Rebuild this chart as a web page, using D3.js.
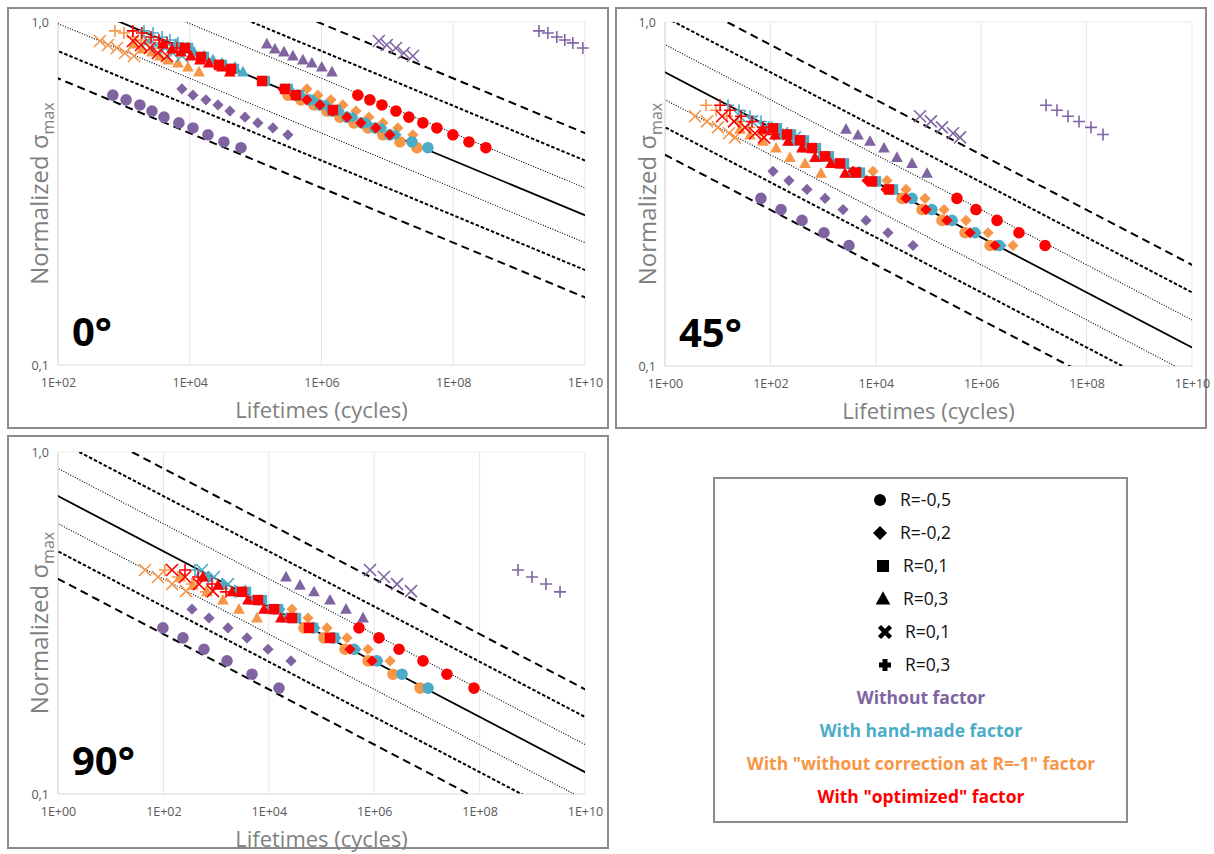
<!DOCTYPE html>
<html><head><meta charset="utf-8">
<script src="https://cdn.jsdelivr.net/npm/d3@7"></script>
<style>body{margin:0;background:#fff;} svg{display:block;font-family:'Open Sans',sans-serif;}</style>
</head><body><svg id="c" width="1214" height="854"></svg>
<script>
// ---------------- DATA ----------------
const markerTypes = ['circle','diamond','square','triangle','cross','plus'];
const factorKeys = ['without','noCorr','hand','opt']; // draw order
const factorColors = {without:'#8064A2', hand:'#4BACC6', noCorr:'#F79646', opt:'#FF0000'};
const legendMarkerLabels = ['R=-0,5','R=-0,2','R=0,1','R=0,3','R=0,1','R=0,3'];
const legendFactorLabels = ['Without factor','With hand-made factor','With "without correction at R=-1" factor','With "optimized" factor'];
const legendFactorOrder = ['without','hand','noCorr','opt'];
const bandShifts = [-3,-2,-1,0,1,2,3];   // lifetime scatter bands (decades)

// ---- 0° ----
const S0 = { circle:[0.612,0.593,0.573,0.550,0.528,0.508,0.491,0.469,0.447,0.430],
  diamond:[0.638,0.612,0.593,0.573,0.550,0.528,0.508,0.491,0.469],
  square:[0.840,0.791,0.750,0.730,0.673,0.638,0.612,0.554],
  triangle:[0.863,0.834,0.818,0.796,0.775,0.759,0.739,0.715],
  cross:[0.880,0.857,0.840,0.812,0.796],
  plus:[0.942,0.929,0.904,0.886,0.869,0.840] };
const N0_without = { circle:[6.8e2,1.08e3,1.75e3,2.67e3,4.06e3,6.85e3,1.12e4,1.89e4,3.30e4,5.98e4],
  diamond:[7.6e3,1.12e4,1.76e4,2.68e4,4.07e4,6.9e4,1.08e5,1.83e5,3.09e5], square:[],
  triangle:[1.48e5,1.96e5,2.69e5,3.68e5,5.22e5,7.14e5,1.01e6,1.44e6],
  cross:[7.4e6,9.8e6,1.35e7,1.78e7,2.44e7], plus:[2.0e9,2.73e9,3.73e9,4.93e9,6.53e9,9.27e9] };
const N0_hand = { circle:[4.39e5,6.44e5,9.46e5,1.44e6,2.43e6,4.10e6,6.46e6,1.09e7,2.36e7,4.12e7],
  diamond:[3.2e5,4.87e5,7.4e5,1.17e6,1.84e6,3.0e6,4.89e6,8.26e6,1.35e7],
  square:[9.4e3,1.64e4,3.08e4,4.69e4,1.38e5,3.09e5,4.54e5,1.66e6],
  triangle:[6.18e3,8.45e3,1.16e4,1.64e4,2.25e4,3.08e4,4.85e4,6.41e4],
  cross:[2.32e3,3.07e3,4.21e3,5.56e3,7.62e3], plus:[2.02e3,2.77e3,3.79e3,5.01e3,6.62e3,9.4e3] };
const N0_noCorr = { circle:[3.09e5,4.87e5,7.67e5,1.21e6,1.90e6,3.10e6,5.06e6,8.55e6,1.55e7,2.81e7],
  diamond:[6.0e5,8.8e5,1.39e6,2.11e6,3.33e6,5.24e6,8.55e6,1.44e7,2.44e7], square:[],
  triangle:[1.42e3,1.88e3,2.67e3,3.53e3,4.67e3,6.62e3,9.4e3,1.38e4],
  cross:[4.34e2,5.74e2,7.85e2,1.04e3,1.42e3], plus:[7.33e2,1.0e3,1.37e3,1.82e3,2.4e3,3.41e3] };
const N0_opt = { circle:[3.56e6,5.42e6,8.26e6,1.35e7,2.12e7,3.46e7,5.64e7,9.86e7,1.73e8,3.13e8],
  diamond:[2.6e5,3.94e5,6.0e5,9.46e5,1.49e6,2.43e6,3.96e6,6.69e6,1.09e7],
  square:[8.45e3,1.48e4,2.77e4,4.22e4,1.25e5,2.79e5,4.09e5,1.49e6],
  triangle:[3.92e3,5.37e3,7.35e3,1.04e4,1.43e4,1.95e4,3.08e4,4.07e4],
  cross:[1.37e3,1.82e3,2.49e3,3.29e3,4.51e3], plus:[1.37e3,1.88e3,2.58e3,3.41e3,4.51e3,6.4e3] };
const fit0 = [[1e-4,3.58],[1e14,0.131]];

// ---- 45° ----
const S45 = { circle:[0.307,0.285,0.265,0.244,0.224],
  diamond:[0.368,0.346,0.326,0.307,0.285,0.265,0.244,0.224],
  square:[0.491,0.471,0.453,0.430,0.407,0.388,0.365,0.344,0.326],
  triangle:[0.488,0.469,0.450,0.430,0.404,0.388,0.363],
  cross:[0.532,0.514,0.494,0.475,0.462],
  plus:[0.573,0.554,0.532,0.514,0.494,0.471] };
const N45_without = { circle:[66,159,398,1.04e3,3.1e3],
  diamond:[112,225,494,1.09e3,2.39e3,6.52e3,1.70e4,5.08e4], square:[],
  triangle:[2.72e3,4.59e3,7.76e3,1.43e4,2.52e4,4.86e4,9.37e4],
  cross:[6.9e4,1.11e5,1.80e5,2.92e5,3.96e5], plus:[1.70e7,2.74e7,4.44e7,7.18e7,1.21e8,2.05e8] };
const N45_hand = { circle:[4.86e4,1.16e5,2.79e5,7.62e5,2.18e6],
  diamond:[4.8e3,8.85e3,2.03e4,4.86e4,1.16e5,2.92e5,7.96e5,2.38e6],
  square:[133,246,434,733,1.29e3,2.49e3,5.01e3,1.01e4,2.12e4],
  triangle:[90,152,268,494,873,1.76e3,3.24e3],
  cross:[26.5,44.8,75.6,166,293], plus:[15.7,25.4,41,66.4,107,173] };
const N45_noCorr = { circle:[3.14e4,7.53e4,1.80e5,4.93e5,1.47e6],
  diamond:[8.85e3,1.63e4,3.74e4,8.59e4,1.97e5,5.15e5,1.35e6,4.01e6], square:[],
  triangle:[26.5,41,72.4,128,235,454,912],
  cross:[3.71,6.27,10.1,16.4,21.3], plus:[6.0,9.3,15,24.3,39.3,63.5] };
const N45_opt = { circle:[3.47e5,7.96e5,2.0e6,5.21e6,1.63e7],
  diamond:[3.69e3,6.81e3,1.56e4,3.74e4,8.97e4,2.24e5,6.13e5,1.83e6],
  square:[112,207,365,615,1.09e3,2.09e3,4.21e3,8.47e3,1.78e4],
  triangle:[72.4,122,216,398,702,1.41e3,2.61e3],
  cross:[12.1,20.4,33,51,75.6], plus:[11.1,17.1,27.7,44.8,72.4,117] };
const fit45 = [[1e-4,1.493],[1e14,0.0542]];

// ---- 90° ----
const S90 = { circle:[0.306,0.286,0.265,0.245,0.224,0.204],
  diamond:[0.347,0.327,0.306,0.286,0.265,0.245],
  square:[0.390,0.369,0.347,0.327,0.306,0.286],
  triangle:[0.431,0.408,0.390,0.369,0.347,0.327],
  cross:[0.452,0.431,0.411,0.392],
  plus:[0.452,0.431,0.411,0.390] };
const N90_without = { circle:[98,235,589,1.61e3,4.8e3,1.56e4],
  diamond:[349,733,1.68e3,3.86e3,9.66e3,2.64e4], square:[],
  triangle:[2.12e4,3.91e4,7.21e4,1.45e5,2.92e5,6.13e5],
  cross:[8.32e5,1.53e6,2.71e6,4.99e6], plus:[5.36e8,9.86e8,1.82e9,3.36e9] };
const N90_hand = { circle:[6.9e4,1.65e5,4.14e5,1.13e6,3.37e6,1.05e7],
  diamond:[1.63e4,3.28e4,7.53e4,1.88e5,4.52e5,1.18e6],
  square:[3.69e3,7.43e3,1.5e4,3.28e4,6.9e4,1.73e5],
  triangle:[702,1.35e3,2.49e3,5.01e3,1.01e4,2.12e4],
  cross:[540,912,1.68e3,2.84e3], plus:[398,702,1.29e3,2.39e3] };
const N90_noCorr = { circle:[4.66e4,1.11e5,2.79e5,7.62e5,2.27e6,7.4e6],
  diamond:[2.75e4,5.55e4,1.27e5,3.05e5,7.62e5,2.0e6], square:[],
  triangle:[207,365,671,1.35e3,2.72e3,5.97e3],
  cross:[44.8,79,146,268], plus:[107,189,349,643] };
const N90_opt = { circle:[5.15e5,1.23e6,2.96e6,8.43e6,2.4e7,7.83e7],
  diamond:[1.26e4,2.52e4,5.79e4,1.45e5,3.47e5,9.08e5],
  square:[3.1e3,6.24e3,1.26e4,2.75e4,5.79e4,1.45e5],
  triangle:[564,1.09e3,2.0e3,4.03e3,8.11e3,1.7e4],
  cross:[146,257,474,873], plus:[257,454,836,1.54e3] };
const fit90 = [[1e-4,1.563],[1e14,0.0551]];

const xTicks0 = [1e2,1e4,1e6,1e8,1e10];
const xTicksWide = [1,1e2,1e4,1e6,1e8,1e10];
const yTicks = [0.1,1.0];

// ---------------- LAYOUT ----------------
const panels = [
  {label:'0°', frame:[8,8,600,420], plot:[58,585,22,365], xDom:[1e2,1e10], xTicks:xTicks0, S:S0,
   N:{without:N0_without,hand:N0_hand,noCorr:N0_noCorr,opt:N0_opt}, fit:fit0},
  {label:'45°', frame:[616,8,590,420], plot:[665,1192,22,366], xDom:[1,1e10], xTicks:xTicksWide, S:S45,
   N:{without:N45_without,hand:N45_hand,noCorr:N45_noCorr,opt:N45_opt}, fit:fit45},
  {label:'90°', frame:[8,436,600,412], plot:[58,585,452,794], xDom:[1,1e10], xTicks:xTicksWide, S:S90,
   N:{without:N90_without,hand:N90_hand,noCorr:N90_noCorr,opt:N90_opt}, fit:fit90}
];

const svg = d3.select('#c');
const bandStyle = k => {
  const a = Math.abs(k);
  if (a===0) return {w:1.8, dash:null};
  if (a===1) return {w:1.1, dash:'1,1.6'};
  if (a===2) return {w:2, dash:'3.5,2'};
  return {w:2, dash:'8,5'};
};

function markerPath(type, s) {
  switch(type){
    case 'circle': return `M${-s},0a${s},${s} 0 1,0 ${2*s},0a${s},${s} 0 1,0 ${-2*s},0Z`;
    case 'diamond': return `M0,${-s}L${s},0L0,${s}L${-s},0Z`;
    case 'square': return `M${-s},${-s}H${s}V${s}H${-s}Z`;
    case 'triangle': return `M0,${-s*1.1}L${s*1.05},${s*0.8}L${-s*1.05},${s*0.8}Z`;
    case 'cross': return `M${-s},${-s}L${s},${s}M${-s},${s}L${s},${-s}`;
    case 'plus': return `M${-s},0H${s}M0,${-s}V${s}`;
  }
}
const markerSize = {circle:5.8, diamond:5.6, square:5.2, triangle:5.6, cross:6, plus:6};

panels.forEach((p, pi) => {
  const [fx,fy,fw,fh] = p.frame;
  const [x0,x1,y0,y1] = p.plot;
  const g = svg.append('g');
  g.append('rect').attr('x',fx).attr('y',fy).attr('width',fw).attr('height',fh)
    .attr('fill','#fff').attr('stroke','#8c8c8c').attr('stroke-width',2);
  const x = d3.scaleLog().domain(p.xDom).range([x0,x1]);
  const y = d3.scaleLog().domain([0.1,1]).range([y1,y0]);

  // grid
  g.selectAll('.vg').data(p.xTicks).join('line')
    .attr('x1',d=>x(d)).attr('x2',d=>x(d)).attr('y1',y0).attr('y2',y1)
    .attr('stroke','#e6e6e6').attr('stroke-width',1);
  g.selectAll('.hg').data(yTicks).join('line')
    .attr('x1',x0).attr('x2',x1).attr('y1',d=>y(d)).attr('y2',d=>y(d))
    .attr('stroke',(d,i)=>i===0?'#d9d9d9':'#ececec').attr('stroke-width',1);
  g.append('line').attr('x1',x0).attr('x2',x0).attr('y1',y0).attr('y2',y1).attr('stroke','#d9d9d9');

  // axes tick labels via d3 axes
  const xAxis = d3.axisBottom(x).tickValues(p.xTicks).tickSize(0).tickPadding(0)
    .tickFormat(d => '1E+' + String(Math.round(Math.log10(d))).padStart(2,'0'));
  const xa = g.append('g').attr('transform',`translate(0,${y1+18})`).call(xAxis);
  xa.select('.domain').remove();
  xa.selectAll('text').attr('font-family','Open Sans, sans-serif').attr('font-size',12.5).attr('fill','#595959').attr('dy','0.3em');
  const yAxis = d3.axisLeft(y).tickValues(yTicks).tickSize(0).tickPadding(0)
    .tickFormat(d => d3.format('.1f')(d).replace('.',','));
  const ya = g.append('g').attr('transform',`translate(${x0-9},0)`).call(yAxis);
  ya.select('.domain').remove();
  ya.selectAll('text').attr('font-family','Open Sans, sans-serif').attr('font-size',12.5).attr('fill','#595959');

  // fit lines (clipped)
  const cid = 'clip'+pi;
  svg.append('clipPath').attr('id',cid).append('rect')
    .attr('x',x0).attr('y',y0).attr('width',x1-x0).attr('height',y1-y0);
  const lg = g.append('g').attr('clip-path',`url(#${cid})`);
  const line = d3.line().x(d=>x(d[0])).y(d=>y(d[1]));
  bandShifts.forEach(k => {
    const st = bandStyle(k);
    const pts = p.fit.map(([n,s]) => [n*Math.pow(10,k), s]);
    lg.append('path').attr('d', line(pts)).attr('fill','none')
      .attr('stroke','#000').attr('stroke-width',st.w)
      .attr('stroke-dasharray', st.dash);
  });

  // markers
  factorKeys.forEach(f => {
    const col = factorColors[f];
    markerTypes.forEach(m => {
      const Ns = p.N[f][m]; const Ss = p.S[m];
      const pts = Ns.map((n,i)=>[n,Ss[i]]);
      const isLine = (m==='cross'||m==='plus');
      g.selectAll(null).data(pts).join('path')
        .attr('transform', d=>`translate(${x(d[0])},${y(d[1])})`)
        .attr('d', markerPath(m, markerSize[m]))
        .attr('fill', isLine?'none':col)
        .attr('stroke', isLine?col:'none')
        .attr('stroke-width', isLine?1.6:0);
    });
  });

  // titles
  g.append('text').attr('x',(x0+x1)/2).attr('y',y1+53).attr('text-anchor','middle')
    .attr('font-size',22).attr('fill','#808080').text('Lifetimes (cycles)');
  const yt = g.append('text').attr('transform',`translate(${fx+40},${(y0+y1)/2}) rotate(-90)`)
    .attr('text-anchor','middle').attr('font-size',24).attr('fill','#808080');
  yt.append('tspan').text('Normalized σ');
  yt.append('tspan').attr('font-size',16).attr('dy',6).text('max');
  g.append('text').attr('x',x0+14).attr('y',y1-19).attr('font-size',40).attr('font-weight','bold')
    .attr('fill','#000').text(p.label);
});

// ---------------- LEGEND ----------------
const L = svg.append('g');
L.append('rect').attr('x',714).attr('y',478).attr('width',413).attr('height',344)
  .attr('fill','#fff').attr('stroke','#8c8c8c').attr('stroke-width',2);
const legendSym = {circle:6, diamond:7, square:6, triangle:7, cross:5.5, plus:6};
markerTypes.forEach((m,i) => {
  const cy = 500 + i*33;
  const sx = 880 + (i>=2?3:0) + (i>=4?2:0);
  const isLine = (m==='cross'||m==='plus');
  L.append('path').attr('transform',`translate(${sx},${cy})`)
    .attr('d', markerPath(m, legendSym[m]))
    .attr('fill', isLine?'none':'#000').attr('stroke', isLine?'#000':'none')
    .attr('stroke-width', isLine?(m==='plus'?5:4.5):0);
  L.append('text').attr('x', sx+20).attr('y', cy).attr('dy','0.36em')
    .attr('font-size',17.5).attr('fill','#111').text(legendMarkerLabels[i]);
});
legendFactorOrder.forEach((f,i) => {
  L.append('text').attr('x',921).attr('y',698 + i*33).attr('dy','0.36em')
    .attr('text-anchor','middle').attr('font-size',17.5).attr('font-weight','bold')
    .attr('fill', factorColors[f]).text(legendFactorLabels[i]);
});
</script></body></html>
